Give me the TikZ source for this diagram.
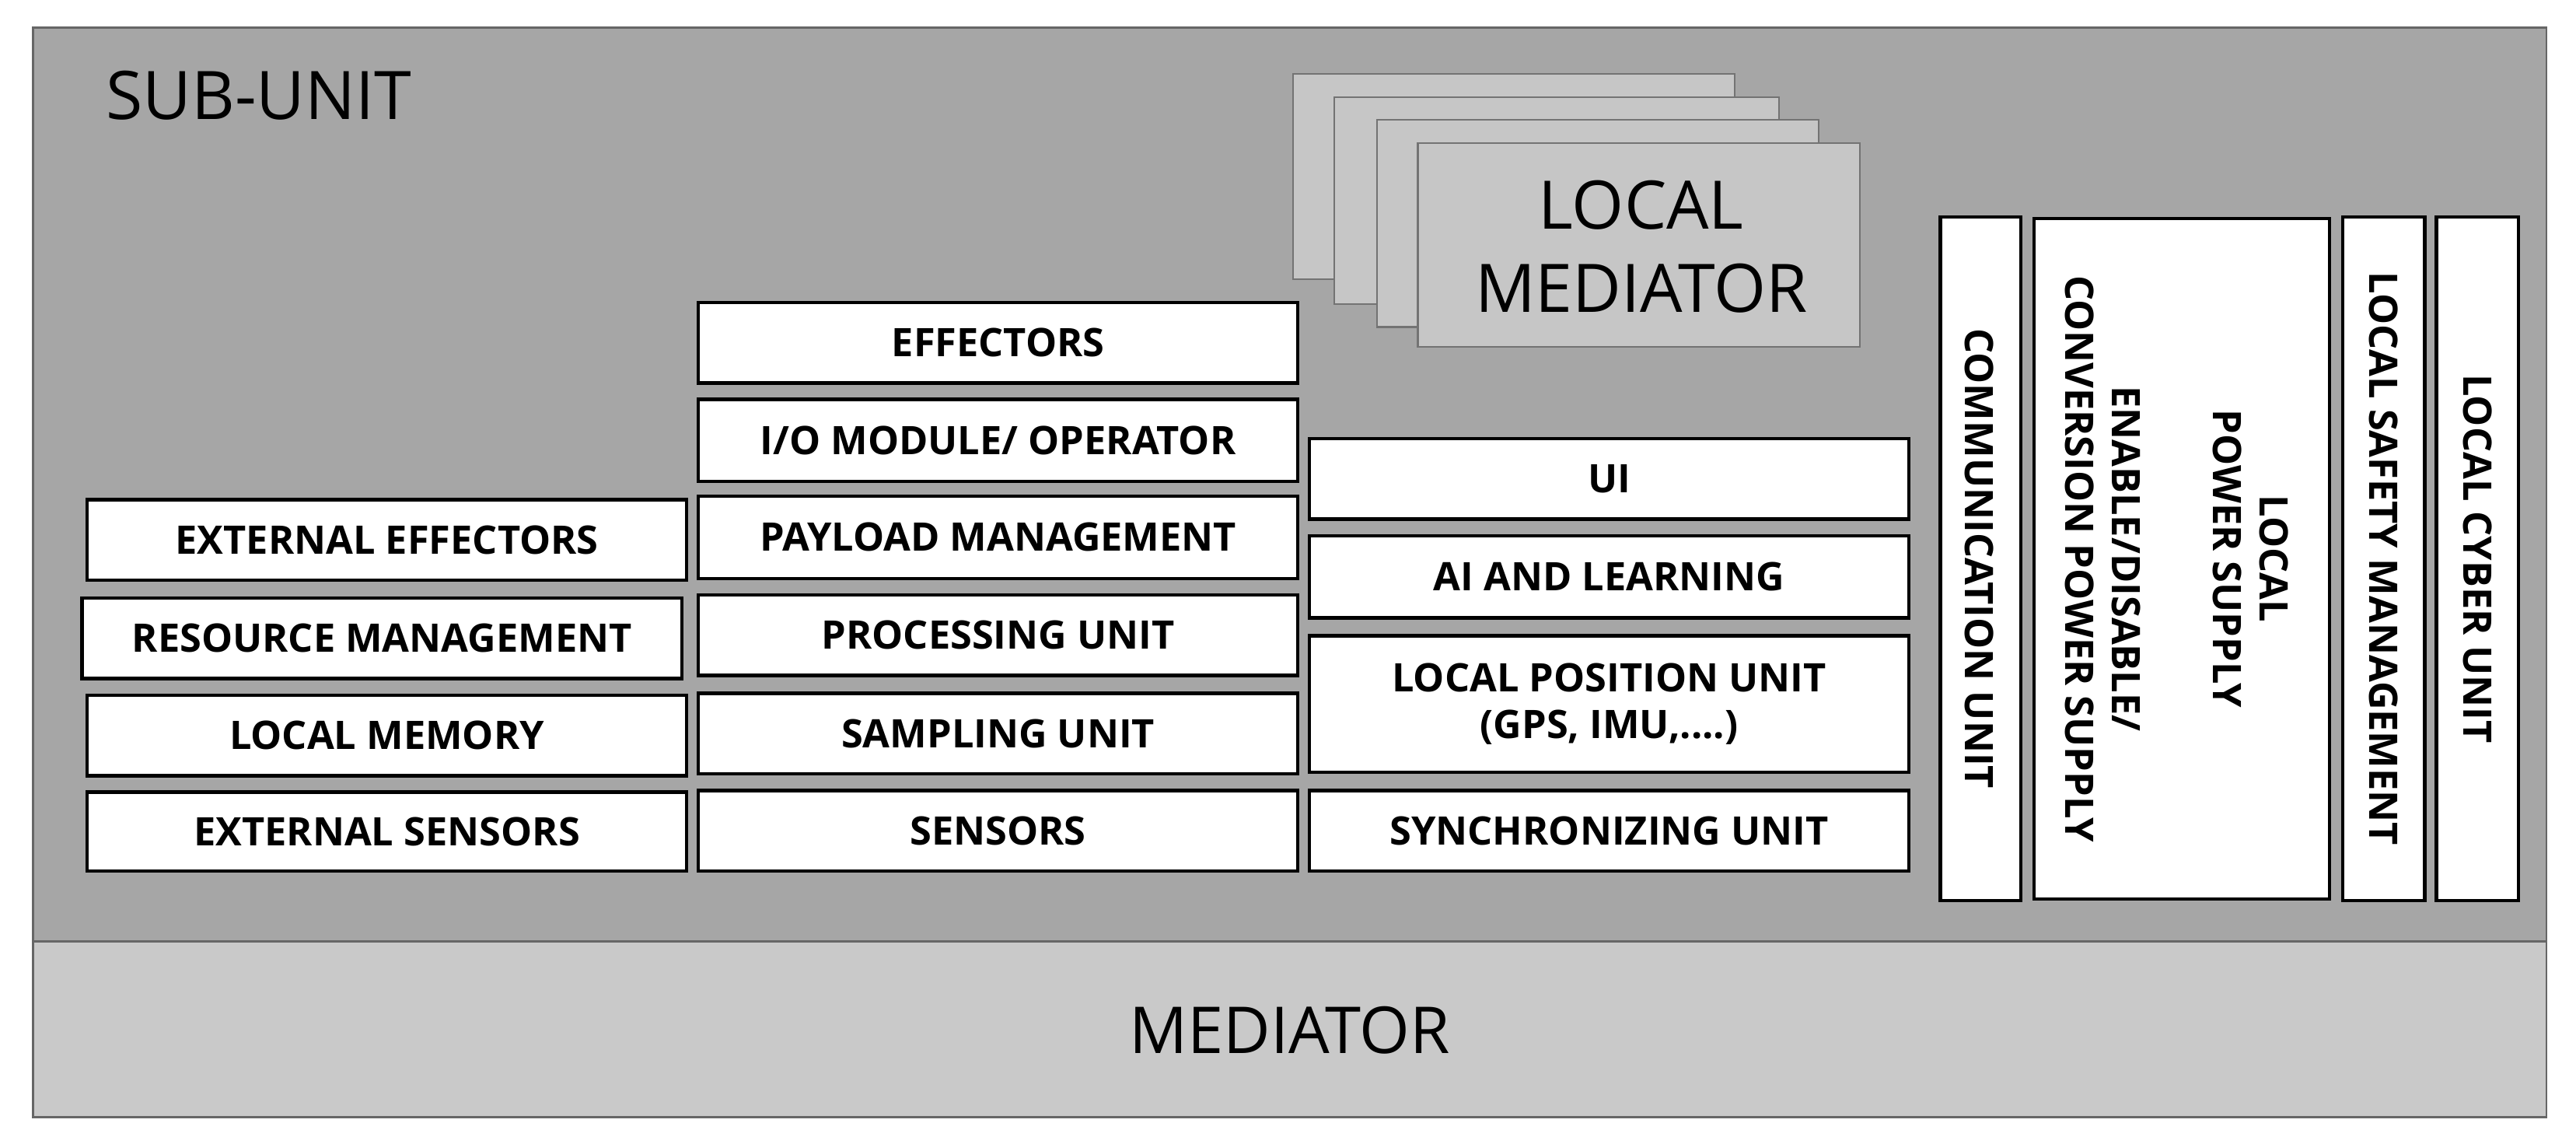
\documentclass[tikz,border=0pt]{standalone}
\usepackage{fontspec}
\setmainfont{Open Sans}
\begin{document}
\begin{tikzpicture}[x=0.05cm,y=-0.05cm,
 box/.style={draw=black,line width=3pt,fill=white,font=\fontsize{34}{40}\selectfont\bfseries,align=center},
 lm/.style={draw=gray!90!black,line width=1.5pt,fill=gray!45}]
\useasboundingbox (0,0) rectangle (1568,696);
\fill[white] (0,0) rectangle (1568,696);
\draw[line width=2pt,draw=gray!80!black,fill=gray!70] (20,17) rectangle (1550,573);
\draw[line width=2pt,draw=gray!80!black,fill=gray!42] (20,573) rectangle (1550,680);
\node[anchor=west,font=\fontsize{58}{66}\selectfont] (su) at (62,58) {SUB-UNIT};
\node[font=\fontsize{56}{64}\selectfont] (med) at (785,627) {MEDIATOR};
\draw[lm] (787,45) rectangle (1056,170);
\draw[lm] (812,59) rectangle (1083,185);
\draw[lm] (838,73) rectangle (1107,199);
\draw[lm] (863,87) rectangle (1132,211);
\node[font=\fontsize{58}{72}\selectfont,align=center] (lmt) at (999,150) {LOCAL\\MEDIATOR};
\newcommand{\bx}[6]{\node[box,minimum width={(#4-#2)*0.05cm},minimum height={(#5-#3)*0.05cm},inner sep=0pt] (#1) at ({(#2+#4)/2},{(#3+#5)/2}) {#6};}
\bx{ee}{53}{304}{418}{353}{EXTERNAL EFFECTORS}
\bx{rm}{50}{364}{415}{413}{RESOURCE MANAGEMENT}
\bx{lmem}{53}{423}{418}{472}{LOCAL MEMORY}
\bx{es}{53}{482}{418}{530}{EXTERNAL SENSORS}
\bx{eff}{425}{184}{790}{233}{EFFECTORS}
\bx{io}{425}{243}{790}{293}{I/O MODULE/ OPERATOR}
\bx{pm}{425}{302}{790}{352}{PAYLOAD MANAGEMENT}
\bx{pu}{425}{362}{790}{411}{PROCESSING UNIT}
\bx{su2}{425}{422}{790}{471}{SAMPLING UNIT}
\bx{sen}{425}{481}{790}{530}{SENSORS}
\bx{ui}{797}{267}{1162}{316}{UI}
\bx{ai}{797}{326}{1162}{376}{AI AND LEARNING}
\bx{lpu}{797}{387}{1162}{470}{LOCAL POSITION UNIT\\(GPS, IMU,....)}
\bx{sync}{797}{481}{1162}{530}{SYNCHRONIZING UNIT}
\draw[line width=3pt,fill=white] (1181,132) rectangle (1230,548);
\draw[line width=3pt,fill=white] (1238,133) rectangle (1418,547);
\draw[line width=3pt,fill=white] (1426,132) rectangle (1476,548);
\draw[line width=3pt,fill=white] (1483,132) rectangle (1533,548);
\tikzset{vt/.style={rotate=-90,font=\fontsize{34}{40}\selectfont\bfseries,align=center}}
\node[vt] (cu) at (1205,340) {COMMUNICATION UNIT};
\node[vt] (lp) at (1370,340) {LOCAL\\POWER SUPPLY};
\node[vt] (en) at (1280,340) {ENABLE/DISABLE/\\CONVERSION POWER SUPPLY};
\node[vt] (ls) at (1451,340) {LOCAL SAFETY MANAGEMENT};
\node[vt] (lc) at (1508,340) {LOCAL CYBER UNIT};
\end{tikzpicture}
\end{document}
